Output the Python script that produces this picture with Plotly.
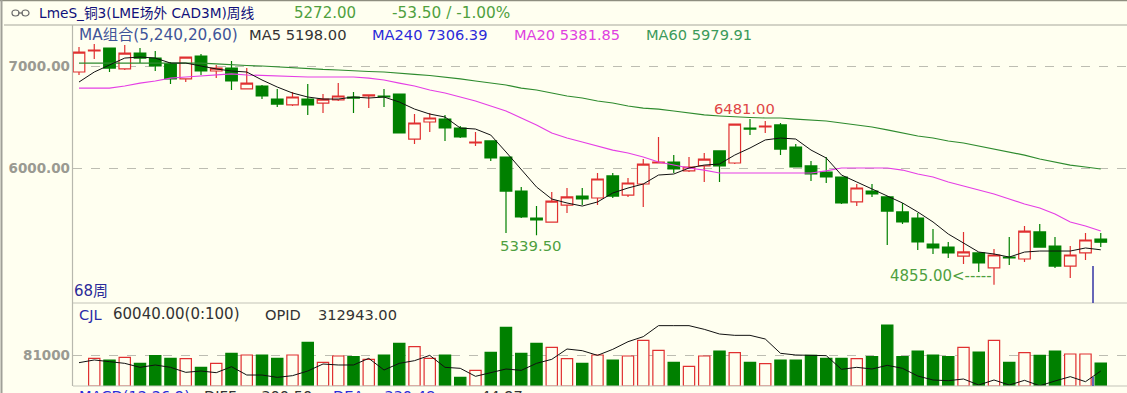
import plotly.graph_objects as go

W, H = 1127, 393
BG = "#FFFFF0"
RED = "#E03030"
GREEN = "#008000"

opens = [6941,7147,7176,6971,7127,7078,7020,6873,7098,6951,6980,6775,6804,6676,6618,6676,6637,6667,6696,6706,
         6706,6725,6284,6451,6480,6392,6245,6265,6108,5774,5510,5470,5637,5725,5706,5922,5735,5843,6049,6059,
         5971,6020,6167,6049,6392,6402,6422,6206,6020,5961,5912,5667,5774,5716,5569,5510,5255,5225,5137,5167,
         5020,5127,5108,5373,5235,5039,5167,5304]
closes = [7137,7157,6980,7127,7078,7000,6873,7088,6951,6980,6853,6833,6706,6627,6696,6618,6676,6706,6686,6716,
          6696,6343,6441,6490,6392,6304,6255,6098,5774,5520,5490,5676,5716,5696,5892,5725,5853,6039,6059,5990,
          6010,6088,6020,6431,6382,6412,6186,6010,5941,5912,5657,5804,5745,5578,5471,5275,5216,5167,5177,5069,
          5147,5118,5382,5225,5039,5147,5294,5272]
highs = [7186,7216,7176,7206,7176,7147,7039,7088,7118,7010,7049,6980,6814,6775,6745,6824,6725,6833,6745,6716,
         6775,6725,6529,6539,6520,6412,6353,6265,6108,5814,5627,5765,5804,5804,5951,5951,5902,6088,6304,6127,
         6108,6147,6167,6431,6481,6461,6441,6235,6069,6108,5912,5843,5843,5725,5657,5559,5402,5275,5373,5167,
         5206,5324,5431,5451,5324,5235,5363,5363]
lows = [6912,7069,6941,6961,7029,6951,6824,6843,6912,6882,6765,6775,6676,6598,6608,6520,6539,6657,6539,6588,
        6598,6343,6235,6353,6265,6294,6216,6069,5363,5510,5339.5,5470,5559,5637,5637,5706,5716,5618,6049,5951,
        5961,5863,5863,6039,6323,6343,6127,6010,5872,5853,5647,5627,5716,5245,5451,5196,5157,5118,5059,4980,
        4855,5049,5079,5225,5020,4922,5098,5225]
ma5 = [6843,6941,7010,7078,7088,7078,7029,7029,7000,6971,6951,6941,6863,6794,6735,6696,6676,6676,6696,6686,
       6696,6647,6578,6529,6500,6392,6382,6323,6157,5980,5814,5696,5657,5627,5667,5755,5804,5843,5931,5941,
       6000,6029,6039,6127,6196,6275,6294,6284,6176,6098,5931,5863,5794,5725,5657,5569,5471,5353,5265,5176,
       5157,5127,5176,5186,5186,5186,5216,5198]
ma20 = [6784,6784,6784,6804,6833,6853,6882,6892,6902,6917,6922,6912,6907,6902,6892,6892,6892,6892,6892,6882,
        6863,6833,6804,6765,6735,6696,6657,6608,6559,6490,6422,6343,6294,6255,6216,6176,6147,6108,6059,6029,
        6000,5980,5951,5951,5951,5951,5951,5951,5951,5971,6000,6000,6000,6000,5980,5941,5912,5863,5824,5784,
        5745,5696,5647,5608,5549,5471,5431,5382]
ma60 = [7029,7029,7029,7029,7029,7029,7029,7029,7029,7020,7010,7005,7000,6990,6985,6975,6966,6961,6951,6946,
        6941,6926,6917,6907,6892,6873,6853,6833,6814,6784,6765,6735,6706,6686,6657,6637,6608,6588,6578,6559,
        6539,6520,6510,6500,6495,6490,6490,6480,6471,6461,6441,6422,6402,6373,6343,6314,6294,6265,6245,6216,
        6186,6157,6127,6088,6059,6029,6010,5990]
volume = [None,72300,67900,74900,59200,79300,72300,71400,48800,59200,85400,81000,81000,72300,81000,114100,61800,78400,76600,69700,
          81000,111500,102800,72300,81000,22600,40900,88000,153300,85400,111500,101000,71400,59200,81000,67900,78400,119300,93200,61800,
          51400,78400,91500,87100,61800,58400,67900,67900,80100,72300,72300,71400,76600,159400,76600,91500,81000,76600,101000,88800,
          119300,61800,87100,80100,91500,83600,83600,60040]
vol_ma = [61000,68000,63600,59200,48800,54900,48800,35700,39200,34800,50500,28700,28700,22600,27000,39200,57500,54900,54900,72300,
          41800,59200,66200,80100,48800,46200,25300,34800,44400,40900,59200,69700,96700,92300,80100,95800,115800,128900,157700,157700,
          157700,148100,135900,132400,132400,122800,85400,81000,79300,79300,43600,48800,44400,54000,46200,26100,15700,13900,18300,2600,
          15700,2600,14800,500,13100,24400,11300,39200]
price_ticks = [6000, 7000]
price_tick_labels = ["6000.00", "7000.00"]
vol_ticks = [81000]
vol_tick_labels = ["81000"]

idx = list(range(len(opens)))
up = [c >= o for o, c in zip(opens, closes)]

def px(x):
    return x / W

def py(y):
    return 1 - y / H

X_LEFT = 73
X0, STEP = 79, 15.25
x_range = [(X_LEFT - X0) / STEP, (W - X0) / STEP]

fig = go.Figure()
fig.add_trace(go.Candlestick(
    x=idx, open=opens, high=highs, low=lows, close=closes,
    increasing=dict(line=dict(color=RED, width=1.2), fillcolor=BG),
    decreasing=dict(line=dict(color=GREEN, width=1.2), fillcolor=GREEN),
    whiskerwidth=0, xaxis="x", yaxis="y", showlegend=False,
))
fig.add_trace(go.Scatter(x=idx, y=ma60, mode="lines", line=dict(color="#2E8B2E", width=1.2), xaxis="x", yaxis="y"))
fig.add_trace(go.Scatter(x=idx, y=ma20, mode="lines", line=dict(color="#E53FE5", width=1.2), xaxis="x", yaxis="y"))
fig.add_trace(go.Scatter(x=idx, y=ma5, mode="lines", line=dict(color="#111111", width=1), xaxis="x", yaxis="y"))
fig.add_trace(go.Bar(
    x=idx, y=volume, width=0.74,
    marker=dict(color=[BG if u else GREEN for u in up],
                line=dict(color=[RED if u else GREEN for u in up], width=1.2)),
    xaxis="x2", yaxis="y2",
))
fig.add_trace(go.Scatter(x=idx, y=vol_ma, mode="lines", line=dict(color="#111111", width=1), xaxis="x2", yaxis="y2"))

# (text, left px, centre px, colour, size)
labels = [
    ("LmeS_铜3(LME场外 CAD3M)周线", 38, 13, "#10107A", 13.7),
    ("5272.00", 293, 13, "#4F9F3F", 15),
    ("-53.50 / -1.00%", 391, 13, "#4F9F3F", 15.3),
    ("MA组合(5,240,20,60)", 78, 35, "#3F5599", 15.3),
    ("MA5 5198.00", 248, 35, "#333333", 14.7),
    ("MA240 7306.39", 371, 35, "#2B2BD9", 14.6),
    ("MA20 5381.85", 513, 35, "#E03FE0", 14.6),
    ("MA60 5979.91", 645, 35, "#3C9A5A", 14.6),
    ("6481.00", 713, 108, "#E04545", 14.7),
    ("5339.50", 499, 246, "#4F9F3F", 14.9),
    ("4855.00<-----", 889, 276, "#4F9F3F", 15),
    ("68周", 73, 291, "#2B2B99", 15),
    ("CJL", 78, 314, "#2B2BA8", 14.6),
    ("60040.00(0:100)", 112, 314, "#333333", 15),
    ("OPID", 264, 314, "#333333", 14.6),
    ("312943.00", 317, 314, "#333333", 14.6),
    ("MACD(12,26,9)", 78, 396, "#2B2BD9", 14.6),
    ("DIFF", 203, 396, "#333333", 14.6),
    ("-300.50", 255, 396, "#333333", 14.6),
    ("DEA", 332, 396, "#2B2BD9", 14.6),
    ("-330.48", 378, 396, "#2B2BD9", 14.6),
    ("44.97", 480, 396, "#333333", 14.6),
]
annotations = [dict(text=t, x=px(x), y=py(y), xref="paper", yref="paper", xanchor="left", yanchor="middle",
                    showarrow=False, borderpad=0, font=dict(family="DejaVu Sans, Noto Sans CJK SC", size=s, color=c))
               for t, x, y, c, s in labels]

def hline(y, color, w=1.2, x0=0, x1=W):
    return dict(type="line", xref="paper", yref="paper", x0=px(x0), x1=px(x1), y0=py(y), y1=py(y),
                line=dict(color=color, width=w), layer="above")

def vline(x, y0, y1, color, w=1.2):
    return dict(type="line", xref="paper", yref="paper", x0=px(x), x1=px(x), y0=py(y0), y1=py(y1),
                line=dict(color=color, width=w), layer="above")

shapes = [
    hline(0.5, "#8E8E80", 1.5),
    hline(25, "#C4C4B8", 1.5, 4),
    hline(303, "#C4C4B8", 1.2, X_LEFT),
    hline(386, "#C4C4B8", 1.2, X_LEFT),
    vline(1.5, 0, H, "#A0A098", 2),
    vline(72.5, 25, 386, "#B8B8AE", 1.2),
    vline(1093, 266, 303, "#3535A5", 1.5),
    vline(1093, 377, 386, "#3535A5", 1.5),
    dict(type="circle", xref="paper", yref="paper", x0=px(12), x1=px(19), y0=py(16), y1=py(10),
         line=dict(color="#666666", width=1.2)),
    dict(type="circle", xref="paper", yref="paper", x0=px(22), x1=px(29), y0=py(16), y1=py(10),
         line=dict(color="#666666", width=1.2)),
    hline(13, "#666666", 1.2, 18, 23),
]

tickfont = dict(family="DejaVu Sans", size=13.5, color="#9A9A92", weight="bold")
common_x = dict(range=x_range, visible=False, fixedrange=True, domain=[px(X_LEFT), 1])
fig.update_layout(
    width=W, height=H, autosize=False,
    margin=dict(l=0, r=0, t=0, b=0, pad=0),
    paper_bgcolor=BG, plot_bgcolor=BG,
    showlegend=False, bargap=0.26, boxgap=0.24, boxgroupgap=0,
    xaxis=dict(rangeslider=dict(visible=False), anchor="y", **common_x),
    xaxis2=dict(anchor="y2", **common_x),
    yaxis=dict(domain=[py(303), py(26)], range=[4676.5, 7392.2], anchor="x",
               tickvals=price_ticks, ticktext=price_tick_labels, tickfont=tickfont, ticks="", ticklen=0,
               ticklabelstandoff=2,
               showgrid=True, gridcolor="#BDBDB2", griddash="dash", gridwidth=1, zeroline=False, showline=False),
    yaxis2=dict(domain=[py(386), py(303)], range=[0, 216900], anchor="x2",
                tickvals=vol_ticks, ticktext=vol_tick_labels, tickfont=tickfont, ticks="", ticklen=0,
                ticklabelstandoff=2,
                showgrid=True, gridcolor="#BDBDB2", griddash="dash", gridwidth=1, zeroline=False, showline=False),
    annotations=annotations, shapes=shapes,
)
fig.write_html("out.html", config=dict(displayModeBar=False),
               post_script="document.body.style.margin='0';document.body.style.overflow='hidden';")
